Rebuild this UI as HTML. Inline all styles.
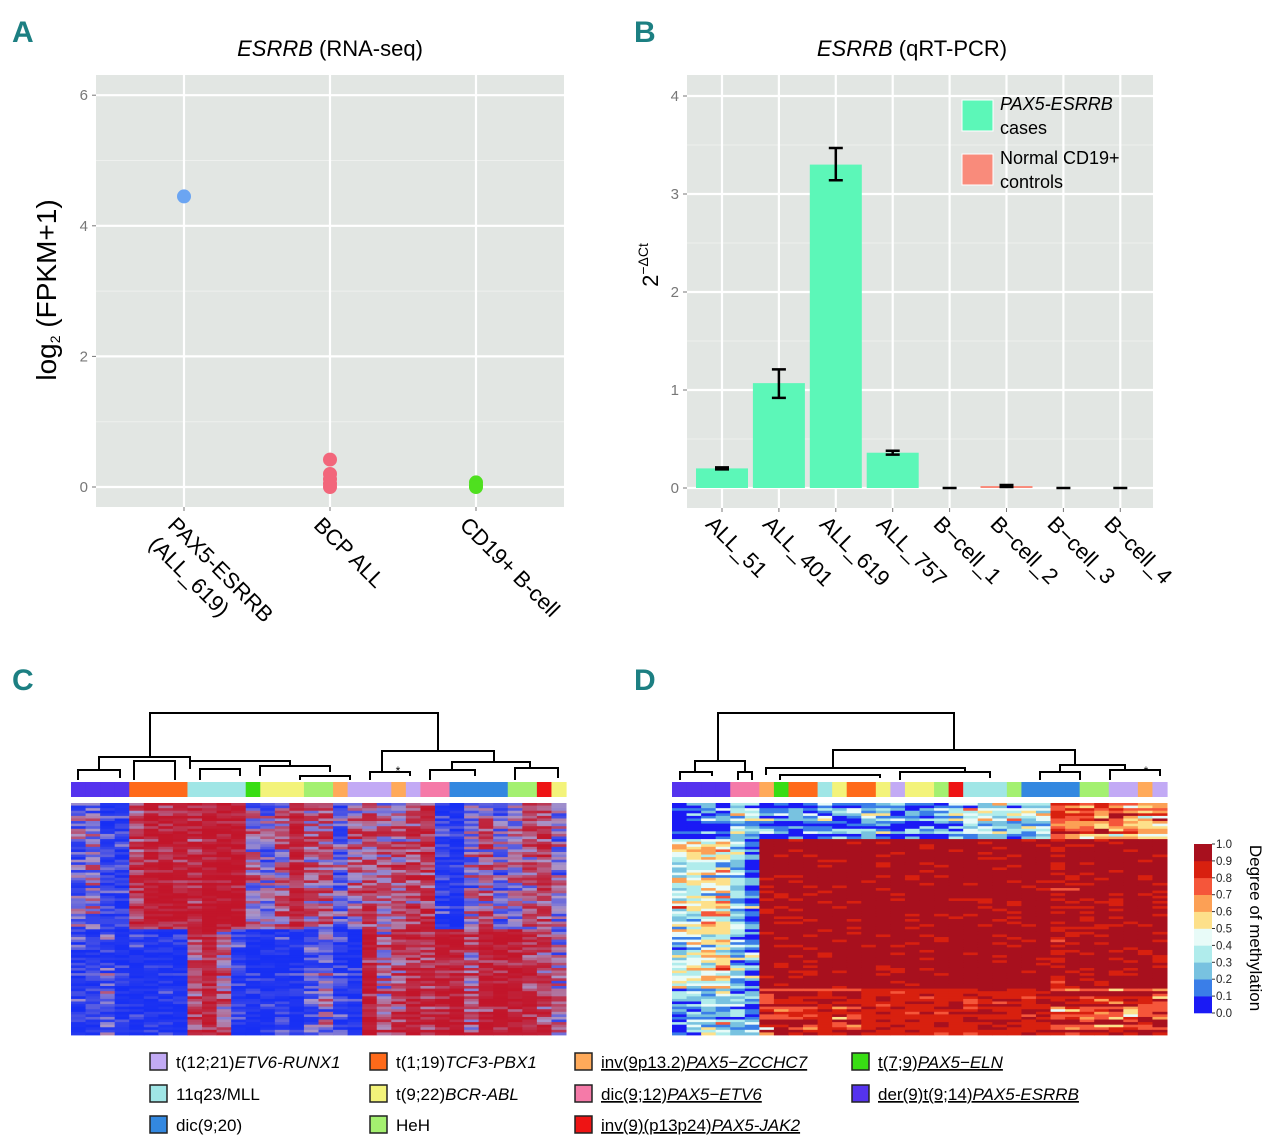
<!DOCTYPE html>
<html><head><meta charset="utf-8"><style>
html,body{margin:0;padding:0;background:#fff;}
svg{display:block;font-family:"Liberation Sans",sans-serif;}
</style></head><body>
<svg id="fig" xmlns="http://www.w3.org/2000/svg" width="1280" height="1144" viewBox="0 0 1280 1144">
<rect x="0" y="0" width="1280" height="1144" fill="#fff"/>
<g id="panelA"></g>
<g id="panelB"></g>
<g id="panelC"></g>
<g id="panelD"></g>
<g id="legend"></g>
</svg>
<script>
// ---------- Panel A data ----------
const aCategories = ["PAX5-ESRRB|(ALL_619)", "BCP ALL", "CD19+ B-cell"];
const aPoints = [[4.45], [0.42, 0.2, 0.12, 0.05, 0.0], [0.07, 0.02, 0.0]];
const aColors = ["#6ba5f2", "#f2667b", "#4fe01f"];
const aTicks = [0, 2, 4, 6];
// ---------- Panel B data ----------
const bCategories = ["ALL_51","ALL_401","ALL_619","ALL_757","B\u2212cell_1","B\u2212cell_2","B\u2212cell_3","B\u2212cell_4"];
const bValues = [0.2, 1.07, 3.3, 0.36, 0, 0.02, 0, 0];
const bErrLow = [0.19, 0.92, 3.14, 0.34, 0, 0.01, 0, 0];
const bErrHigh = [0.21, 1.21, 3.47, 0.38, 0, 0.03, 0, 0];
const bGroup = [0,0,0,0,1,1,1,1];
const bTicks = [0,1,2,3,4];
// ---------- Heatmap data ----------
const groupColors = {etv:"#c2aaf5", tcf:"#ff6a1a", mll:"#a0e6e6", eln:"#38dd14", bcr:"#f3f37a", heh:"#a4f070", zcc:"#ffaa5a", pax6:"#f57aa8", dic:"#3388e0", jak:"#ee1414", esr:"#5533ee"};
const cGroups = ["esr","esr","esr","esr","tcf","tcf","tcf","tcf","mll","mll","mll","mll","eln","bcr","bcr","bcr","heh","heh","zcc","etv","etv","etv","zcc","etv","pax6","pax6","dic","dic","dic","dic","heh","heh","jak","bcr"];
const cTop = [0.35,0.45,0.2,0.2,0.75,0.85,0.85,0.85,0.8,0.9,0.9,0.9,0.5,0.4,0.6,0.8,0.6,0.6,0.35,0.6,0.65,0.55,0.6,0.7,0.75,0.2,0.1,0.45,0.6,0.4,0.5,0.6,0.7,0.45];
const cBottom = [0.2,0.2,0.3,0.15,0.15,0.1,0.1,0.1,0.7,0.8,0.6,0.2,0.1,0.1,0.15,0.1,0.3,0.4,0.2,0.1,0.85,0.6,0.7,0.85,0.75,0.85,0.9,0.65,0.85,0.9,0.9,0.75,0.7,0.5];
const dGroups = ["esr","esr","esr","esr","pax6","pax6","zcc","eln","tcf","tcf","mll","bcr","tcf","tcf","bcr","etv","bcr","bcr","heh","jak","mll","mll","mll","heh","dic","dic","dic","dic","heh","heh","etv","etv","zcc","etv"];
const dBand1 = [0.05,0.05,0.05,0.05,0.3,0.3,0.15,0.1,0.15,0.15,0.2,0.15,0.15,0.15,0.2,0.15,0.15,0.15,0.2,0.25,0.35,0.35,0.3,0.35,0.3,0.35,0.8,0.75,0.7,0.7,0.75,0.7,0.6,0.6];
const dBand2 = [0.4,0.45,0.5,0.5,0.3,0.15,0.93,0.93,0.95,0.95,0.96,0.96,0.96,0.96,0.96,0.96,0.96,0.96,0.96,0.96,0.95,0.95,0.95,0.95,0.95,0.95,0.9,0.92,0.93,0.93,0.94,0.94,0.94,0.94];
const dBand3 = [0.2,0.25,0.3,0.3,0.2,0.15,0.85,0.85,0.85,0.85,0.88,0.85,0.85,0.88,0.88,0.88,0.88,0.88,0.88,0.88,0.88,0.88,0.88,0.88,0.88,0.88,0.8,0.85,0.85,0.85,0.85,0.85,0.85,0.85];
const scaleTicks = ["0.0","0.1","0.2","0.3","0.4","0.5","0.6","0.7","0.8","0.9","1.0"];
const scaleColors = ["#1a1af5","#3a7ee8","#78c2e0","#b0ecec","#e8fbf8","#fde08a","#fca055","#f5563a","#d8200f","#a8101e"];
const legendItems = [
 ["etv","t(12;21)","ETV6-RUNX1",false],["tcf","t(1;19)","TCF3-PBX1",false],["zcc","inv(9p13.2)","PAX5\u2212ZCCHC7",true],["eln","t(7;9)","PAX5\u2212ELN",true],
 ["mll","11q23/MLL","",false],["bcr","t(9;22)","BCR-ABL",false],["pax6","dic(9;12)","PAX5\u2212ETV6",true],["esr","der(9)t(9;14)","PAX5-ESRRB",true],
 ["dic","dic(9;20)","",false],["heh","HeH","",false],["jak","inv(9)(p13p24)","PAX5-JAK2",true]];

const NS = "http://www.w3.org/2000/svg";
function mk(parent, tag, attrs, text){
  const e = document.createElementNS(NS, tag);
  for (const k in attrs) e.setAttribute(k, attrs[k]);
  if (text !== undefined) e.textContent = text;
  parent.appendChild(e);
  return e;
}
function panelLetter(g, x, y, t){
  const e = mk(g,"text",{x:x,y:y,"font-size":30,"font-weight":"bold",fill:"#1c7f82","font-family":"Liberation Sans Narrow, Liberation Sans, sans-serif"},t);
  
  
}

// ---------- Panel A ----------
(function(){
  const g = document.getElementById("panelA");
  panelLetter(g, 12, 42, "A");
  const L=96,R=564,T=75,B=507;
  const y = v => 487 - v*65.3;
  const xs = [184,330,476];
  const t = mk(g,"text",{x:330,y:56,"font-size":22,"text-anchor":"middle"});
  
  
  mk(t,"tspan",{"font-style":"italic"},"ESRRB");
  mk(t,"tspan",{}," (RNA-seq)");
  const bg = mk(g,"rect",{x:L,y:T,width:R-L,height:B-T,fill:"#e2e6e3"});
  
  
  for (let v=1; v<=5; v+=2) mk(g,"line",{x1:L,x2:R,y1:y(v),y2:y(v),stroke:"#eef0ee","stroke-width":1});
  aTicks.forEach(v=>{
    mk(g,"line",{x1:L,x2:R,y1:y(v),y2:y(v),stroke:"#fff","stroke-width":2.2});
    mk(g,"line",{x1:L-4,x2:L,y1:y(v),y2:y(v),stroke:"#777","stroke-width":1});
    const tl = mk(g,"text",{x:L-8,y:y(v)+5,"font-size":15,fill:"#777","text-anchor":"end"},String(v));
    
    
  });
  xs.forEach(x=>{ mk(g,"line",{x1:x,x2:x,y1:T,y2:B,stroke:"#fff","stroke-width":2.2}); mk(g,"line",{x1:x,x2:x,y1:B,y2:B+4,stroke:"#777"}); });
  aPoints.forEach((pts,i)=>{
    pts.forEach(v=>{
      const c = mk(g,"circle",{cx:xs[i],cy:y(v),r:7,fill:aColors[i]});
      
      
    });
  });
  aCategories.forEach((c,i)=>{
    const lines = c.split("|");
    const ox = xs[i]-6, oy = B+8;
    const txt = mk(g,"text",{x:0,y:0,"font-size":22,transform:`translate(${ox},${oy}) rotate(45)`});
    
    
    lines.forEach((ln,j)=>{ mk(txt,"tspan",{x:0,y:16 + j*27},ln); });
  });
  const yt = mk(g,"text",{x:0,y:0,"font-size":28,"text-anchor":"middle",transform:"translate(56,290) rotate(-90)"});
  
  
  mk(yt,"tspan",{},"log");
  mk(yt,"tspan",{"font-size":14,dy:4},"2");
  mk(yt,"tspan",{dy:-4}," (FPKM+1)");
})();

// ---------- Panel B ----------
(function(){
  const g = document.getElementById("panelB");
  panelLetter(g, 634, 42, "B");
  const L=687,R=1153,T=75,B=508;
  const y = v => 488 - v*98;
  const x = i => 722 + i*56.9;
  const t = mk(g,"text",{x:912,y:56,"font-size":22,"text-anchor":"middle"});
  
  
  mk(t,"tspan",{"font-style":"italic"},"ESRRB");
  mk(t,"tspan",{}," (qRT-PCR)");
  const bg = mk(g,"rect",{x:L,y:T,width:R-L,height:B-T,fill:"#e2e6e3"});
  
  
  for (let v=0.5; v<4; v+=1) mk(g,"line",{x1:L,x2:R,y1:y(v),y2:y(v),stroke:"#eef0ee","stroke-width":1});
  bTicks.forEach(v=>{
    mk(g,"line",{x1:L,x2:R,y1:y(v),y2:y(v),stroke:"#fff","stroke-width":2.2});
    mk(g,"line",{x1:L-4,x2:L,y1:y(v),y2:y(v),stroke:"#777"});
    const tl = mk(g,"text",{x:L-8,y:y(v)+5,"font-size":15,fill:"#777","text-anchor":"end"},String(v));
    
    
  });
  bCategories.forEach((c,i)=>{ mk(g,"line",{x1:x(i),x2:x(i),y1:T,y2:B,stroke:"#fff","stroke-width":2.2}); mk(g,"line",{x1:x(i),x2:x(i),y1:B,y2:B+4,stroke:"#777"}); });
  bValues.forEach((v,i)=>{
    const h = Math.max(y(0)-y(v), 0);
    const r = mk(g,"rect",{x:x(i)-26,y:y(v),width:52,height:h,fill:bGroup[i]?"#f98b7b":"#5cf7b8"});
    
    
    const e = mk(g,"path",{d:`M${x(i)-7},${y(bErrHigh[i])}H${x(i)+7}M${x(i)},${y(bErrHigh[i])}V${y(bErrLow[i])}M${x(i)-7},${y(bErrLow[i])}H${x(i)+7}`,stroke:"#000","stroke-width":2.5,fill:"none"});
    
    
  });
  bCategories.forEach((c,i)=>{
    const tl = mk(g,"text",{x:0,y:16,"font-size":22,transform:`translate(${x(i)-6},${B+6}) rotate(45)`},c);
    
    
  });
  const yt = mk(g,"text",{x:0,y:0,"font-size":22,"text-anchor":"middle",transform:"translate(658,265) rotate(-90)"});
  
  
  mk(yt,"tspan",{},"2");
  mk(yt,"tspan",{"font-size":14,dy:-10},"\u2212\u0394Ct");
  const lg = [["#5cf7b8",["PAX5-ESRRB","cases"],true],["#f98b7b",["Normal CD19+","controls"],false]];
  lg.forEach((it,k)=>{
    const yy = 100 + k*54;
    const s = mk(g,"rect",{x:962,y:yy,width:31,height:31,fill:it[0],stroke:"#fff","stroke-width":1});
    
    
    const tt = mk(g,"text",{x:1000,y:yy+10,"font-size":18});
    
    
    mk(tt,"tspan",{x:1000,dy:0,"font-style":it[2]?"italic":"normal"},it[1][0]);
    mk(tt,"tspan",{x:1000,dy:24},it[1][1]);
  });
})();

// ---------- Heatmaps ----------
function hash(a,b,s){ let h = (a*374761393 + b*668265263 + s*1442695041) | 0; h = (h ^ (h>>>13)) * 1274126177 | 0; h = h ^ (h>>>16); return ((h>>>0) % 10000)/10000; }
function lerp(a,b,t){ return Math.round(a+(b-a)*t); }
function divColor(v){
  v = Math.max(0,Math.min(1,v));
  // steepen toward saturated ends
  v = 1/(1+Math.exp(-(v-0.5)*9));
  const blue=[20,45,245], mid=[170,150,200], red=[195,18,38];
  if (v<0.5){ const t=v/0.5; return `rgb(${lerp(blue[0],mid[0],t)},${lerp(blue[1],mid[1],t)},${lerp(blue[2],mid[2],t)})`; }
  const t=(v-0.5)/0.5; return `rgb(${lerp(mid[0],red[0],t)},${lerp(mid[1],red[1],t)},${lerp(mid[2],red[2],t)})`;
}
function discColor(v){ v=Math.max(0,Math.min(0.999,v)); return scaleColors[Math.floor(v*10)]; }

function drawDendro(g, links){
  links.forEach(l=>{
    const p = mk(g,"path",{d:`M${l[0]},${l[3]}V${l[2]}H${l[1]}V${l[4]}`,stroke:"#000","stroke-width":2,fill:"none"});
    
    
  });
}
function drawHeatmap(g, L, R, groups, valFn, colorFn, nRows){
  const n = groups.length, w=(R-L)/n;
  groups.forEach((gr,i)=>{
    const r = mk(g,"rect",{x:L+i*w,y:782,width:w+0.6,height:15,fill:groupColors[gr]});
    
    
  });
  const T=803, B=1035, h=(B-T)/nRows;
  for (let r=0;r<nRows;r++){
    for (let c=0;c<n;c++){
      const v = valFn(r/nRows, c, r);
      const cell = mk(g,"rect",{x:(L+c*w).toFixed(2),y:(T+r*h).toFixed(2),width:(w+0.5).toFixed(2),height:(h+0.4).toFixed(2),fill:colorFn(v)});
      
      
    }
  }
}
(function(){
  const g = document.getElementById("panelC");
  panelLetter(g, 12, 690, "C");
  drawDendro(g, [[150,438,713,757,750],[99,190,757,770,761],[78,120,770,780,778],[134,175,761,780,780],[190,290,761,769,766],[200,240,769,780,776],[260,330,766,776,772],[300,350,776,780,780],[382,494,751,772,762],[370,410,772,780,776],[452,530,762,770,768],[430,475,770,780,776],[515,558,768,780,778]]);
  const st = mk(g,"text",{x:398,y:775,"font-size":12,"text-anchor":"middle"},"*");
  
  
  drawHeatmap(g, 71, 566, cGroups, (f,c,r)=>{
    const base = f<0.54 ? cTop[c] : cBottom[c];
    return base + (hash(r,c,1)-0.5)*0.45 + (hash(r,0,7)-0.5)*0.2;
  }, divColor, 90);
})();
(function(){
  const g = document.getElementById("panelD");
  panelLetter(g, 634, 690, "D");
  drawDendro(g, [[718,954,713,761,750],[695,745,761,772,772],[680,712,772,780,776],[738,752,772,780,780],[833,1075,750,768,765],[766,965,768,775,772],[780,880,775,780,778],[900,990,772,780,778],[1060,1125,765,772,770],[1040,1080,772,780,780],[1110,1160,770,780,776]]);
  const st = mk(g,"text",{x:1146,y:775,"font-size":12,"text-anchor":"middle"},"*");
  
  
  drawHeatmap(g, 672, 1167, dGroups, (f,c,r)=>{
    const base = f<0.15 ? dBand1[c] : (f<0.8 ? dBand2[c] : dBand3[c]);
    const spread = base>0.85 ? 0.25 : 0.6;
    const j = hash(r,c,3)-0.5;
    return base + Math.sign(j)*Math.pow(Math.abs(j)*2,3)*spread*0.5 + (base>0.85? 0 : (hash(r,0,9)-0.5)*0.3);
  }, discColor, 90);
  const top=844, bot=1013, h=(bot-top)/10;
  scaleColors.forEach((col,i)=>{
    const r = mk(g,"rect",{x:1194,y:bot-(i+1)*h,width:18,height:h+0.3,fill:col});
    
    
  });
  scaleTicks.forEach((t,i)=>{
    const yy = bot - i*h;
    mk(g,"line",{x1:1212,x2:1215,y1:yy,y2:yy,stroke:"#333"});
    const tl = mk(g,"text",{x:1216,y:yy+4,"font-size":11.5,fill:"#222"},t);
    
    
  });
  const tt = mk(g,"text",{x:0,y:0,"font-size":17,"text-anchor":"middle",transform:"translate(1250,928) rotate(90)"},"Degree of methylation");
  
  
})();

// ---------- Bottom legend ----------
(function(){
  const g = document.getElementById("legend");
  const colX = [150,370,575,852], rowY=[1062,1094,1125];
  legendItems.forEach((it,k)=>{
    const cx = colX[k%4], cy = rowY[Math.floor(k/4)];
    const s = mk(g,"rect",{x:cx,y:cy-9,width:17,height:17,fill:groupColors[it[0]],stroke:"#222","stroke-width":1.5});
    
    
    const t = mk(g,"text",{x:cx+26,y:cy+6,"font-size":17,"text-decoration":it[3]?"underline":"none"});
    
    
    mk(t,"tspan",{},it[1]);
    if (it[2]) mk(t,"tspan",{"font-style":"italic"},it[2]);
  });
})();
</script>
</body></html>
